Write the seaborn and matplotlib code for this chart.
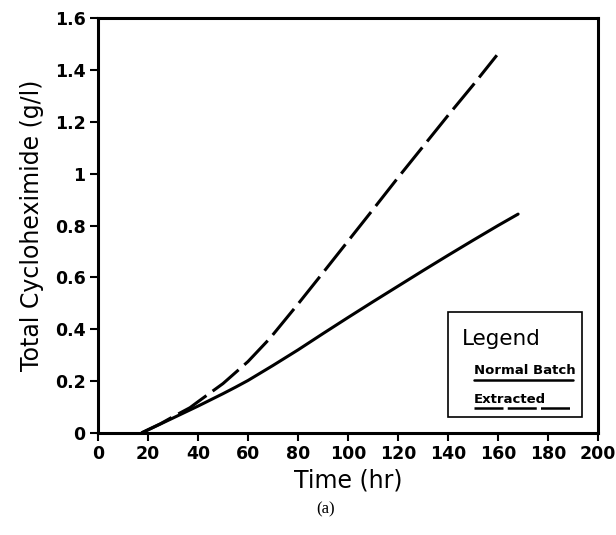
import matplotlib
matplotlib.use("Agg")
import matplotlib.pyplot as plt
import seaborn as sns
import pandas as pd
from matplotlib.patches import Rectangle

# Normal batch fermentation
time_normal = [17.5, 20, 25, 30, 35, 40, 45, 50, 55, 60, 70, 80, 90, 100, 110, 120, 130, 140, 150, 160, 168]
conc_normal = [0.0, 0.011, 0.034, 0.057, 0.08, 0.103, 0.127, 0.151, 0.176, 0.202, 0.26, 0.32, 0.383,
               0.445, 0.506, 0.566, 0.626, 0.685, 0.743, 0.80, 0.844]

# Extractive fermentation
time_extracted = [17.5, 20, 25, 30, 36.8, 40, 50, 60, 68.8, 80, 90, 100, 110, 120, 130, 140, 150, 159.5]
conc_extracted = [0.0, 0.012, 0.035, 0.062, 0.097, 0.12, 0.19, 0.275, 0.365, 0.497, 0.618, 0.74,
                  0.862, 0.985, 1.105, 1.225, 1.342, 1.457]

x_ticks = [0, 20, 40, 60, 80, 100, 120, 140, 160, 180, 200]
y_ticks = [0, 0.2, 0.4, 0.6, 0.8, 1.0, 1.2, 1.4, 1.6]
y_tick_labels = ["0", "0.2", "0.4", "0.6", "0.8", "1", "1.2", "1.4", "1.6"]

df = pd.concat([
    pd.DataFrame({"Time": time_normal, "Conc": conc_normal, "Run": "Normal Batch"}),
    pd.DataFrame({"Time": time_extracted, "Conc": conc_extracted, "Run": "Extracted"}),
])

sns.set_theme(style="ticks")
plt.rcParams["font.family"] = ["DejaVu Sans"]
plt.rcParams["text.color"] = "black"
plt.rcParams["axes.labelcolor"] = "black"
plt.rcParams["xtick.color"] = "black"
plt.rcParams["ytick.color"] = "black"

fig = plt.figure(figsize=(6.16, 5.35), dpi=100)
ax = fig.add_axes([0.159, 0.191, 0.812, 0.775])

sns.lineplot(data=df, x="Time", y="Conc", hue="Run", style="Run",
             palette={"Normal Batch": "black", "Extracted": "black"},
             dashes={"Normal Batch": "", "Extracted": (11, 2.5)},
             linewidth=2.2, legend=False, ax=ax, sort=False)

ax.set_xlim(0, 200)
ax.set_ylim(0, 1.6)
ax.set_xticks(x_ticks)
ax.set_yticks(y_ticks)
ax.set_yticklabels(y_tick_labels)
for lab in ax.get_xticklabels() + ax.get_yticklabels():
    lab.set_fontweight("bold")
    lab.set_fontsize(12.5)
    lab.set_color("black")
ax.tick_params(axis="both", direction="out", length=6, width=1.5, color="black", pad=3)

for sp in ax.spines.values():
    sp.set_linewidth(2.2)
    sp.set_color("black")

ax.set_xlabel("Time (hr)", fontsize=17, labelpad=4, color="black")
ax.set_ylabel("Total Cycloheximide (g/l)", fontsize=17, labelpad=8, color="black")

# Legend panel with captions above their line samples
tr = ax.transAxes
ax.add_patch(Rectangle((0.699, 0.039), 0.268, 0.252, transform=tr,
                       fill=True, facecolor="white", edgecolor="black", linewidth=1.2, zorder=5))
ax.text(0.727, 0.212, "Legend", transform=tr, fontsize=15.5, ha="left", va="baseline", zorder=6)
ax.text(0.751, 0.143, "Normal Batch", transform=tr, fontsize=9.5, fontweight="bold",
        ha="left", va="baseline", zorder=6)
ax.plot([0.751, 0.950], [0.127, 0.127], transform=tr, color="black", lw=1.8, zorder=6)
ax.text(0.751, 0.072, "Extracted", transform=tr, fontsize=9.5, fontweight="bold",
        ha="left", va="baseline", zorder=6)
ax.plot([0.751, 0.944], [0.060, 0.060], transform=tr, color="black", lw=1.8,
        dashes=(11.6, 1.7), zorder=6)

fig.text(0.528, 0.047, "(a)", fontsize=12, family="Liberation Serif", ha="center", va="center")

fig.savefig("out.png", dpi=100)
